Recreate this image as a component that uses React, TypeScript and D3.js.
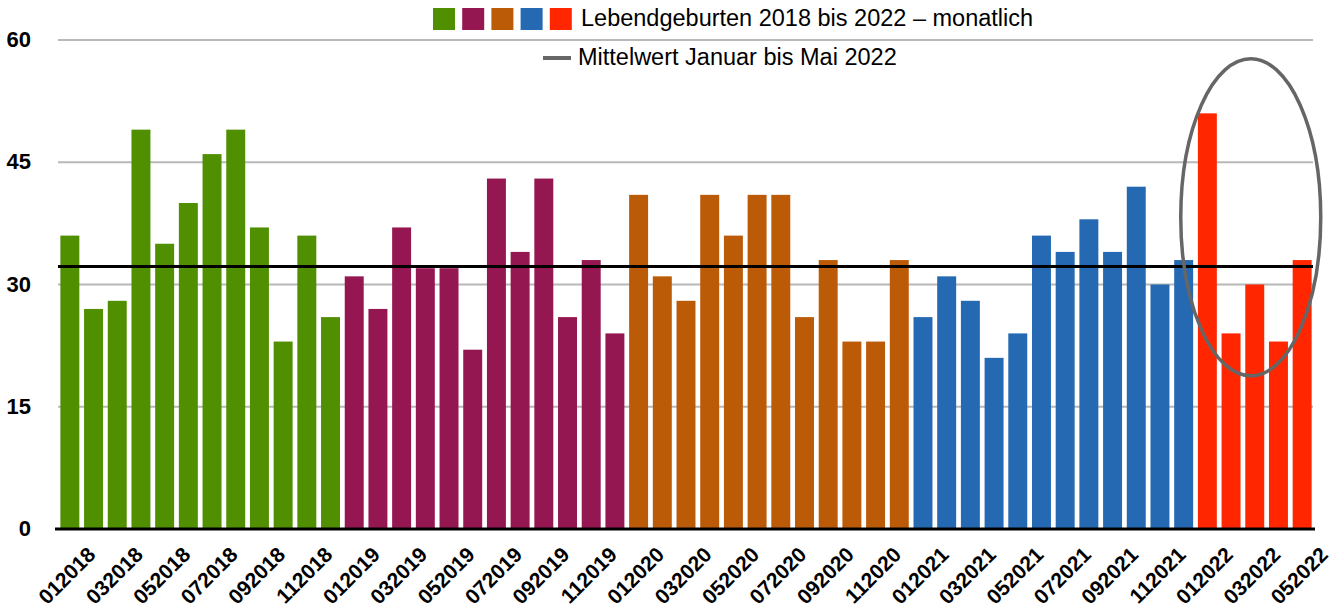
import React from "react";
import * as d3 from "d3";

const years = ["2018", "2019", "2020", "2021", "2022"];
const monthCodes = ["01", "02", "03", "04", "05", "06", "07", "08", "09", "10", "11", "12"];

const births2018 = [36, 27, 28, 49, 35, 40, 46, 49, 37, 23, 36, 26];
const births2019 = [31, 27, 37, 32, 32, 22, 43, 34, 43, 26, 33, 24];
const births2020 = [41, 31, 28, 41, 36, 41, 41, 26, 33, 23, 23, 33];
const births2021 = [26, 31, 28, 21, 24, 36, 34, 38, 34, 42, 30, 33];
const births2022 = [51, 24, 30, 23, 33];

const yearSeries = [births2018, births2019, births2020, births2021, births2022];
const yearColors = ["#4f8f00", "#941751", "#bb5b08", "#2669b3", "#ff2600"];

const yTicks = [0, 15, 30, 45, 60];
const legendLabel = "Lebendgeburten 2018 bis 2022 – monatlich";
const meanLabel = "Mittelwert Januar bis Mai 2022";

// annotation ellipse bounds (data units)
const ellipseTopValue = 57.7;
const ellipseBottomValue = 18.8;

const W = 1341;
const H = 608;

type Row = { key: string; value: number; year: number; month: number };

const rows: Row[] = [];
yearSeries.forEach((vals, yi) => {
  vals.forEach((v, mi) => {
    rows.push({ key: monthCodes[mi] + years[yi], value: v, year: yi, month: mi });
  });
});

const meanValue = d3.mean(births2022) as number;

export default function App() {
  const x = d3
    .scaleBand<string>()
    .domain(rows.map((r) => r.key))
    .range([58, 1314])
    .paddingInner(0.2)
    .paddingOuter(0.1);
  const y = d3.scaleLinear().domain([0, 60]).range([529, 40]);
  const font = "'Liberation Sans', Arial, Helvetica, sans-serif";

  const last2022 = rows.filter((r) => r.year === 4);
  const ex0 = (x(last2022[0].key) as number) + x.bandwidth() / 2;
  const ex1 = (x(last2022[last2022.length - 1].key) as number) + x.bandwidth() / 2;
  const ecx = (ex0 + ex1) / 2 - 4;
  const ecy = (y(ellipseTopValue) + y(ellipseBottomValue)) / 2;
  const ery = (y(ellipseBottomValue) - y(ellipseTopValue)) / 2;

  return (
    <svg
      width={W}
      height={H}
      style={{ position: "absolute", left: 0, top: 0, background: "#fff" }}
      fontFamily={font}
    >
      {/* gridlines */}
      {yTicks
        .filter((t) => t !== 0)
        .map((t) => (
          <line key={t} x1={58} x2={1313} y1={y(t)} y2={y(t)} stroke="#b8b8b8" strokeWidth={2} />
        ))}
      {/* y labels */}
      {yTicks.map((t) => (
        <text
          key={"yl" + t}
          x={31}
          y={y(t) + 7}
          textAnchor="end"
          fontSize={22}
          fontWeight="bold"
          fill="#000"
        >
          {t}
        </text>
      ))}
      {/* bars */}
      {rows.map((r) => (
        <rect
          key={r.key}
          x={x(r.key)}
          y={y(r.value)}
          width={x.bandwidth()}
          height={y(0) - y(r.value)}
          fill={yearColors[r.year]}
        />
      ))}
      {/* zero axis */}
      <line x1={55} x2={1315} y1={y(0)} y2={y(0)} stroke="#000" strokeWidth={3} />
      {/* mean line */}
      <line x1={58} x2={1313} y1={y(meanValue)} y2={y(meanValue)} stroke="#000" strokeWidth={3} />
      {/* x labels */}
      {rows
        .filter((r) => r.month % 2 === 0)
        .map((r) => {
          const cx = (x(r.key) as number) + x.bandwidth() / 2;
          return (
            <text
              key={"xl" + r.key}
              transform={`translate(${cx + 27},556) rotate(-45)`}
              textAnchor="end"
              fontSize={21}
              fontWeight="bold"
              fill="#000"
            >
              {r.key}
            </text>
          );
        })}
      {/* annotation ellipse */}
      <ellipse cx={ecx} cy={ecy} rx={70} ry={ery} fill="none" stroke="#666" strokeWidth={3.5} />
      {/* legend */}
      {yearColors.map((c, i) => (
        <rect key={"lg" + i} x={433 + i * 29.2} y={8} width={22} height={22} fill={c} />
      ))}
      <text x={581} y={26} fontSize={23.5} fill="#000">
        {legendLabel}
      </text>
      <line x1={543} x2={571} y1={58} y2={58} stroke="#666" strokeWidth={4} />
      <text x={578} y={65} fontSize={23.5} fill="#000">
        {meanLabel}
      </text>
    </svg>
  );
}
